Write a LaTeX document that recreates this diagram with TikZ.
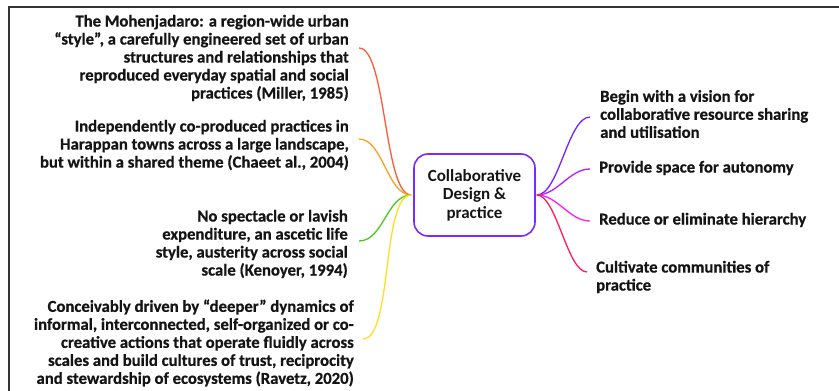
\documentclass[tikz,border=0pt]{standalone}
\usepackage{fontspec}
\setmainfont{Carlito}[BoldFeatures={FakeBold=0.6}]
\newfontfamily\hubfont{Carlito}
\definecolor{boxpurple}{HTML}{7B2BFF}
\definecolor{cred}{HTML}{FF5A36}
\definecolor{corange}{HTML}{FF9F1A}
\definecolor{cgreen}{HTML}{4CC81C}
\definecolor{cyellow}{HTML}{FFE01A}
\definecolor{cpurple}{HTML}{7A1FFF}
\definecolor{cviolet}{HTML}{B41EFF}
\definecolor{cmagenta}{HTML}{FF1EF0}
\definecolor{ccrimson}{HTML}{FF1A5E}
\definecolor{framegray}{HTML}{333333}
\definecolor{txt}{HTML}{151515}
\begin{document}
\begin{tikzpicture}[x=1pt,y=-1pt,
  lefttxt/.style={font=\bfseries\fontsize{16.7}{18}\selectfont, text=txt, align=right, inner sep=0pt, anchor=east},
  righttxt/.style={font=\bfseries\fontsize{16.7}{18}\selectfont, text=txt, align=left, inner sep=0pt, anchor=west},
  branch/.style={line width=1.3pt},
  frameline/.style={draw=framegray, line width=2pt},
  hubbox/.style={draw=boxpurple, line width=1.6pt, rounded corners=14pt, minimum width=121pt, minimum height=82pt, align=center, inner sep=0pt, text=txt, font=\hubfont\bfseries\fontsize{17}{18.5}\selectfont}]
\useasboundingbox (0,0) rectangle (839,391);
\draw[frameline] (9,392) -- (9,7) -- (840,7);
\node[hubbox] (hub) at (474.5,195) {Collaborative\\Design \&\\practice};
% left texts
\node[lefttxt] (l1) at (349,58) {The Mohenjadaro: a region-wide urban\\``style'', a carefully engineered set of urban\\structures and relationships that\\reproduced everyday spatial and social\\practices (Miller, 1985)};
\node[lefttxt] (l2) at (349,145) {Independently co-produced practices in\\Harappan towns across a large landscape,\\but within a shared theme (Chaeet al., 2004)};
\node[lefttxt] (l3) at (348,244) {No spectacle or lavish\\expenditure, an ascetic life\\style, austerity across social\\scale (Kenoyer, 1994)};
\node[lefttxt] (l4) at (354,343) {Conceivably driven by ``deeper'' dynamics of\\informal, interconnected, self-organized or co-\\creative actions that operate fluidly across\\scales and build cultures of trust, reciprocity\\and stewardship of ecosystems (Ravetz, 2020)};
% right texts
\node[righttxt] (r1) at (600,114) {Begin with a vision for\\collaborative resource sharing\\and utilisation};
\node[righttxt] (r2) at (599,168) {Provide space for autonomy};
\node[righttxt] (r3) at (599,220) {Reduce or eliminate hierarchy};
\node[righttxt] (r4) at (596,277) {Cultivate communities of\\practice};
% connector ends
\coordinate (c1) at (359,48);
\coordinate (c2) at (359,139);
\coordinate (c3) at (359,241);
\coordinate (c4) at (363,339);
\coordinate (d1) at (590,117);
\coordinate (d2) at (590,169);
\coordinate (d3) at (590,221);
\coordinate (d4) at (587,272);
\coordinate (hl) at ([xshift=-2pt]hub.west);
\coordinate (hr) at ([xshift=1pt]hub.east);
% left branches
\draw[branch, cred] (c1) to[out=0, in=180, looseness=0.45] (hl);
\draw[branch, corange] (c2) to[out=0, in=180, looseness=0.8] (hl);
\draw[branch, cgreen] (c3) to[out=0, in=180, looseness=0.9] (hl);
\draw[branch, cyellow] (c4) to[out=0, in=180, looseness=0.5] (hl);
% right branches
\draw[branch, cpurple] (hr) to[out=0, in=180, looseness=0.6] (d1);
\draw[branch, cviolet] (hr) to[out=0, in=180, looseness=0.9] (d2);
\draw[branch, cmagenta] (hr) to[out=0, in=180, looseness=0.9] (d3);
\draw[branch, ccrimson] (hr) to[out=0, in=180, looseness=0.55] (d4);
\end{tikzpicture}
\end{document}
